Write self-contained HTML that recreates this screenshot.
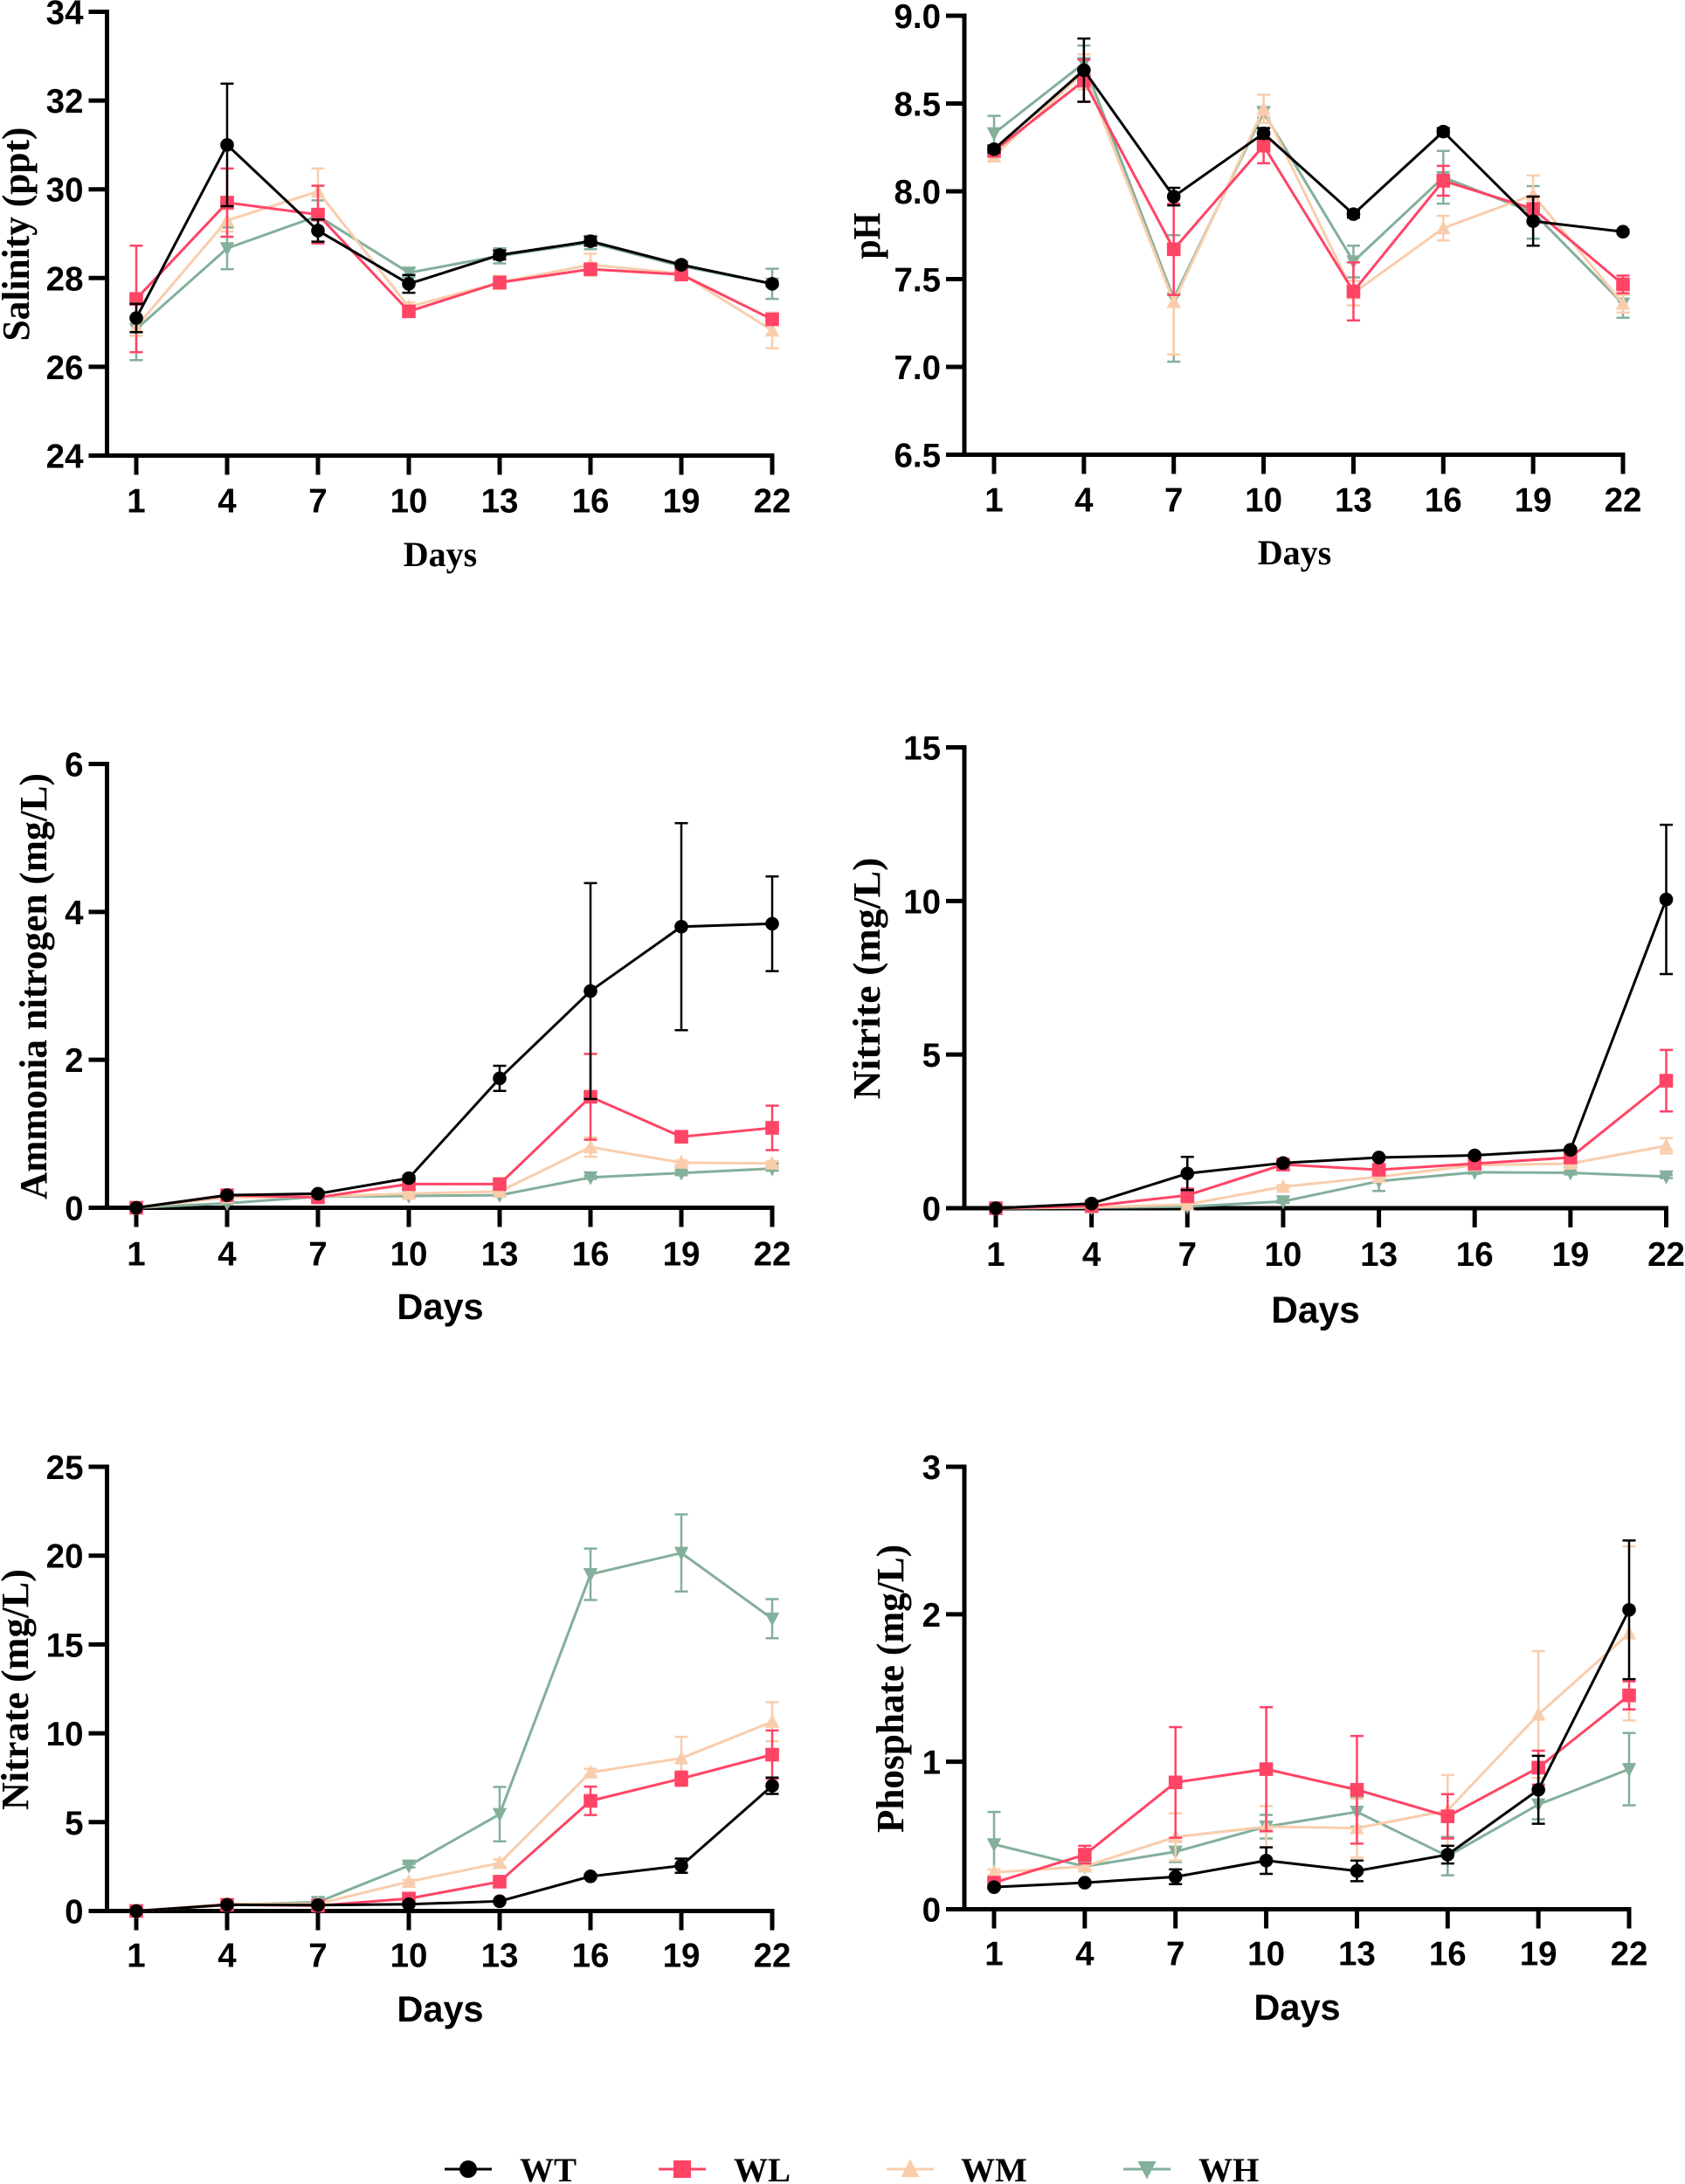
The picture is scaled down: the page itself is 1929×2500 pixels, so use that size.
<!DOCTYPE html>
<html lang="en">
<head>
<meta charset="utf-8">
<title>Water quality parameters over 22 days</title>
<style>
html,body{margin:0;padding:0;background:#fff;}
#figure{display:block;width:1929px;height:2500px;background:#fff;}
text{fill:#000;}
.tick{font:bold 38.5px "Liberation Sans",Arial,sans-serif;}
.sans-title{font:bold 41.5px "Liberation Sans",Arial,sans-serif;}
.sans-title-large{font:bold 42.5px "Liberation Sans",Arial,sans-serif;}
.serif-title{font:bold 40px "Liberation Serif","Times New Roman",serif;}
.serif-axis{font:bold 44px "Liberation Serif","Times New Roman",serif;}
.legend-text{font:bold 39px "Liberation Serif","Times New Roman",serif;}
</style>
</head>
<body>
<svg id="figure" xmlns="http://www.w3.org/2000/svg" width="1929" height="2500" viewBox="0 0 1929 2500"></svg>
<script>
const days = [1, 4, 7, 10, 13, 16, 19, 22];
const dayLabels = ["1", "4", "7", "10", "13", "16", "19", "22"];
const seriesNames = ["WH", "WM", "WL", "WT"];
const legendOrder = ["WT", "WL", "WM", "WH"];

const salinityTicks = ["24", "26", "28", "30", "32", "34"];
const salinityWT = [27.1, 31.0, 29.07, 27.87, 28.52, 28.83, 28.3, 27.87];
const salinityWTerr = [0.32, 1.38, 0.25, 0.2, 0.1, 0.1, 0.05, 0.05];
const salinityWL = [27.53, 29.7, 29.43, 27.25, 27.9, 28.2, 28.08, 27.07];
const salinityWLerr = [1.2, 0.77, 0.65, 0.1, 0.1, 0.1, 0.1, 0.1];
const salinityWM = [26.9, 29.3, 29.95, 27.35, 27.9, 28.3, 28.1, 26.82];
const salinityWMerr = [0.2, 0.25, 0.52, 0.1, 0.15, 0.25, 0.1, 0.4];
const salinityWH = [26.85, 28.67, 29.4, 28.12, 28.5, 28.8, 28.27, 27.87];
const salinityWHerr = [0.7, 0.47, 0.35, 0.1, 0.17, 0.15, 0.05, 0.34];

const phTicks = ["6.5", "7.0", "7.5", "8.0", "8.5", "9.0"];
const phWT = [8.24, 8.69, 7.97, 8.33, 7.87, 8.34, 7.83, 7.77];
const phWTerr = [0.02, 0.18, 0.05, 0.03, 0.02, 0.02, 0.14, 0.01];
const phWL = [8.23, 8.63, 7.67, 8.26, 7.43, 8.06, 7.9, 7.47];
const phWLerr = [0.02, 0.12, 0.26, 0.1, 0.165, 0.085, 0.07, 0.05];
const phWM = [8.2, 8.68, 7.37, 8.47, 7.42, 7.79, 7.98, 7.36];
const phWMerr = [0.03, 0.1, 0.3, 0.08, 0.07, 0.07, 0.11, 0.05];
const phWH = [8.33, 8.73, 7.39, 8.45, 7.6, 8.08, 7.88, 7.36];
const phWHerr = [0.1, 0.1, 0.36, 0.03, 0.09, 0.15, 0.15, 0.08];

const ammoniaTicks = ["0", "2", "4", "6"];
const ammoniaWT = [0, 0.17, 0.19, 0.4, 1.75, 2.93, 3.8, 3.84];
const ammoniaWTerr = [0, 0.02, 0.02, 0.03, 0.17, 1.46, 1.4, 0.64];
const ammoniaWL = [0, 0.17, 0.14, 0.32, 0.32, 1.5, 0.96, 1.08];
const ammoniaWLerr = [0, 0.03, 0.02, 0.03, 0.03, 0.58, 0.05, 0.3];
const ammoniaWM = [0, 0.14, 0.15, 0.19, 0.22, 0.82, 0.61, 0.6];
const ammoniaWMerr = [0, 0.01, 0.01, 0.02, 0.02, 0.13, 0.03, 0.03];
const ammoniaWH = [0, 0.06, 0.15, 0.16, 0.17, 0.41, 0.47, 0.53];
const ammoniaWHerr = [0, 0.01, 0.01, 0.02, 0.02, 0.02, 0.03, 0.03];

const nitriteTicks = ["0", "5", "10", "15"];
const nitriteWT = [0, 0.15, 1.13, 1.47, 1.65, 1.72, 1.9, 10.05];
const nitriteWTerr = [0, 0.03, 0.54, 0.05, 0.05, 0.05, 0.05, 2.43];
const nitriteWL = [0, 0.07, 0.42, 1.42, 1.25, 1.45, 1.65, 4.15];
const nitriteWLerr = [0, 0.02, 0.22, 0.05, 0.05, 0.05, 0.05, 1.0];
const nitriteWM = [0, 0.03, 0.12, 0.7, 1.02, 1.4, 1.45, 2.03];
const nitriteWMerr = [0, 0.01, 0.02, 0.05, 0.05, 0.05, 0.05, 0.25];
const nitriteWH = [0, 0.02, 0.05, 0.22, 0.88, 1.17, 1.15, 1.03];
const nitriteWHerr = [0, 0.01, 0.01, 0.05, 0.32, 0.05, 0.05, 0.05];

const nitrateTicks = ["0", "5", "10", "15", "20", "25"];
const nitrateWT = [0, 0.35, 0.33, 0.38, 0.55, 1.95, 2.55, 7.05];
const nitrateWTerr = [0, 0.05, 0.05, 0.05, 0.05, 0.1, 0.4, 0.46];
const nitrateWL = [0, 0.35, 0.3, 0.7, 1.65, 6.2, 7.45, 8.8];
const nitrateWLerr = [0, 0.05, 0.05, 0.1, 0.1, 0.8, 0.4, 1.36];
const nitrateWM = [0, 0.4, 0.4, 1.65, 2.7, 7.8, 8.6, 10.65];
const nitrateWMerr = [0, 0.05, 0.05, 0.1, 0.2, 0.2, 1.2, 1.1];
const nitrateWH = [0, 0.35, 0.5, 2.55, 5.45, 18.95, 20.15, 16.45];
const nitrateWHerr = [0, 0.05, 0.05, 0.1, 1.53, 1.45, 2.17, 1.1];

const phosphateTicks = ["0", "1", "2", "3"];
const phosphateWT = [0.15, 0.18, 0.22, 0.33, 0.26, 0.37, 0.81, 2.03];
const phosphateWTerr = [0.01, 0.01, 0.05, 0.09, 0.07, 0.06, 0.23, 0.47];
const phosphateWL = [0.18, 0.37, 0.86, 0.95, 0.81, 0.63, 0.96, 1.45];
const phosphateWLerr = [0.01, 0.06, 0.375, 0.42, 0.365, 0.15, 0.115, 0.095];
const phosphateWM = [0.25, 0.29, 0.49, 0.56, 0.55, 0.67, 1.32, 1.87];
const phosphateWMerr = [0.02, 0.02, 0.16, 0.14, 0.2, 0.24, 0.43, 0.59];
const phosphateWH = [0.44, 0.29, 0.39, 0.56, 0.66, 0.36, 0.71, 0.95];
const phosphateWHerr = [0.22, 0.02, 0.07, 0.08, 0.1, 0.13, 0.1, 0.245];

const seriesColor = {WT: "#000000", WL: "#FF4466", WM: "#F9CDAC", WH: "#83AF9B"};
const NS = "http://www.w3.org/2000/svg";
const root = document.getElementById("figure");

function make(tag, attrs, parent) {
  const el = document.createElementNS(NS, tag);
  for (const k in attrs) el.setAttribute(k, attrs[k]);
  parent.appendChild(el);
  return el;
}

function drawMarker(parent, name, x, y, s, label) {
  const fill = seriesColor[name];
  let m;
  if (name === "WT") {
    m = make("circle", {cx: x, cy: y, r: s, fill: fill}, parent);
  } else if (name === "WL") {
    m = make("rect", {x: x - s, y: y - s, width: 2 * s, height: 2 * s, fill: fill}, parent);
  } else if (name === "WM") {
    m = make("polygon", {points: [x, y - s * 1.15, x + s * 1.05, y + s * 0.9, x - s * 1.05, y + s * 0.9].join(" "), fill: fill}, parent);
  } else {
    m = make("polygon", {points: [x - s * 1.05, y - s * 0.9, x + s * 1.05, y - s * 0.9, x, y + s * 1.15].join(" "), fill: fill}, parent);
  }
  
  
  return m;
}

function drawPanel(p) {
  const g = make("g", {}, root);
  
  

  const lo = Number(p.ticks[0]);
  const hi = Number(p.ticks[p.ticks.length - 1]);
  const xScale = function (d) { return p.x1 + (d - days[0]) / (days[days.length - 1] - days[0]) * (p.x22 - p.x1); };
  const yScale = function (v) { return p.y0 + (v - lo) / (hi - lo) * (p.yTop - p.y0); };

  const yAxis = make("line", {x1: p.axisX, x2: p.axisX, y1: p.yTop - 2.5, y2: p.y0 + 2.5, stroke: "#000", "stroke-width": 5}, g);
  
  
  const xAxis = make("line", {x1: p.axisX, x2: p.x22 + 2.5, y1: p.y0, y2: p.y0, stroke: "#000", "stroke-width": 5}, g);
  
  

  p.ticks.forEach(function (label) {
    const y = yScale(Number(label));
    const t = make("line", {x1: p.axisX - 21, x2: p.axisX, y1: y, y2: y, stroke: "#000", "stroke-width": 5}, g);
    
    
    const txt = make("text", {x: p.axisX - 27, y: y + 14, "text-anchor": "end", class: "tick"}, g);
    txt.textContent = label;
    
    
  });

  days.forEach(function (d, i) {
    const x = xScale(d);
    const t = make("line", {x1: x, x2: x, y1: p.y0, y2: p.y0 + 22, stroke: "#000", "stroke-width": 5}, g);
    
    
    const txt = make("text", {x: x, y: p.y0 + p.labelDrop, "text-anchor": "middle", class: "tick"}, g);
    txt.textContent = dayLabels[i];
    
    
  });

  const xt = make("text", {x: p.xTitleX, y: p.xTitleY, "text-anchor": "middle", class: p.xTitleClass}, g);
  xt.textContent = "Days";
  
  

  const yt = make("text", {
    transform: "translate(" + p.yTitleX + " " + p.yTitleY + ") rotate(-90)",
    "text-anchor": "middle", class: "serif-axis",
    textLength: p.yTitleLen, lengthAdjust: "spacingAndGlyphs"
  }, g);
  yt.textContent = p.yTitle;
  
  

  seriesNames.forEach(function (name) {
    const values = p.values[name];
    const errors = p.errors[name];
    const color = seriesColor[name];
    const sg = make("g", {}, g);
    
    

    values.forEach(function (v, i) {
      const e = errors[i];
      if (e <= 0) return;
      const x = xScale(days[i]);
      const top = yScale(v + e);
      const bot = yScale(v - e);
      const eb = make("path", {
        d: "M" + (x - 7.5) + " " + top + "H" + (x + 7.5) + "M" + x + " " + top + "V" + bot + "M" + (x - 7.5) + " " + bot + "H" + (x + 7.5),
        fill: "none", stroke: color, "stroke-width": 2.5
      }, sg);
      
      
    });

    const pts = values.map(function (v, i) { return xScale(days[i]) + "," + yScale(v); }).join(" ");
    const line = make("polyline", {points: pts, fill: "none", stroke: color, "stroke-width": 3, "stroke-linejoin": "round"}, sg);
    
    

    values.forEach(function (v, i) {
      drawMarker(sg, name, xScale(days[i]), yScale(v), 7.8, p.id + '-point-' + name);
    });
  });
}

const leftX1 = 156, leftX22 = 884;

drawPanel({
  id: "salinity", ticks: salinityTicks,
  values: {WT: salinityWT, WL: salinityWL, WM: salinityWM, WH: salinityWH},
  errors: {WT: salinityWTerr, WL: salinityWLerr, WM: salinityWMerr, WH: salinityWHerr},
  axisX: 122.5, x1: leftX1, x22: leftX22, yTop: 13.5, y0: 521.5, labelDrop: 65,
  xTitleX: 504, xTitleY: 648, xTitleClass: "serif-title",
  yTitle: "Salinity (ppt)", yTitleX: 33, yTitleY: 268, yTitleLen: 245
});
drawPanel({
  id: "ph", ticks: phTicks,
  values: {WT: phWT, WL: phWL, WM: phWM, WH: phWH},
  errors: {WT: phWTerr, WL: phWLerr, WM: phWMerr, WH: phWHerr},
  axisX: 1104, x1: 1138, x22: 1858, yTop: 18, y0: 520.5, labelDrop: 65,
  xTitleX: 1482, xTitleY: 646, xTitleClass: "serif-title",
  yTitle: "pH", yTitleX: 1007, yTitleY: 270, yTitleLen: 53
});
drawPanel({
  id: "ammonia", ticks: ammoniaTicks,
  values: {WT: ammoniaWT, WL: ammoniaWL, WM: ammoniaWM, WH: ammoniaWH},
  errors: {WT: ammoniaWTerr, WL: ammoniaWLerr, WM: ammoniaWMerr, WH: ammoniaWHerr},
  axisX: 122.5, x1: leftX1, x22: leftX22, yTop: 874.5, y0: 1382.5, labelDrop: 66,
  xTitleX: 504, xTitleY: 1510, xTitleClass: "sans-title",
  yTitle: "Ammonia nitrogen (mg/L)", yTitleX: 53, yTitleY: 1129, yTitleLen: 488
});
drawPanel({
  id: "nitrite", ticks: nitriteTicks,
  values: {WT: nitriteWT, WL: nitriteWL, WM: nitriteWM, WH: nitriteWH},
  errors: {WT: nitriteWTerr, WL: nitriteWLerr, WM: nitriteWMerr, WH: nitriteWHerr},
  axisX: 1104, x1: 1140, x22: 1907.5, yTop: 855.5, y0: 1383, labelDrop: 66,
  xTitleX: 1506, xTitleY: 1514, xTitleClass: "sans-title-large",
  yTitle: "Nitrite (mg/L)", yTitleX: 1007, yTitleY: 1120, yTitleLen: 277
});
drawPanel({
  id: "nitrate", ticks: nitrateTicks,
  values: {WT: nitrateWT, WL: nitrateWL, WM: nitrateWM, WH: nitrateWH},
  errors: {WT: nitrateWTerr, WL: nitrateWLerr, WM: nitrateWMerr, WH: nitrateWHerr},
  axisX: 122.5, x1: leftX1, x22: leftX22, yTop: 1679, y0: 2187.5, labelDrop: 64,
  xTitleX: 504, xTitleY: 2314, xTitleClass: "sans-title",
  yTitle: "Nitrate (mg/L)", yTitleX: 32, yTitleY: 1934, yTitleLen: 276
});
drawPanel({
  id: "phosphate", ticks: phosphateTicks,
  values: {WT: phosphateWT, WL: phosphateWL, WM: phosphateWM, WH: phosphateWH},
  errors: {WT: phosphateWTerr, WL: phosphateWLerr, WM: phosphateWMerr, WH: phosphateWHerr},
  axisX: 1104, x1: 1138, x22: 1865, yTop: 1679, y0: 2185.5, labelDrop: 64,
  xTitleX: 1485, xTitleY: 2312, xTitleClass: "sans-title",
  yTitle: "Phosphate (mg/L)", yTitleX: 1034, yTitleY: 1933, yTitleLen: 330
});

const legendGroup = make("g", {}, root);


const legendLineStart = {WT: 509, WL: 754, WM: 1015, WH: 1286};
const legendTextStart = {WT: 595, WL: 840, WM: 1100, WH: 1372};
legendOrder.forEach(function (name) {
  const eg = make("g", {}, legendGroup);
  
  
  const x0 = legendLineStart[name];
  const ln = make("line", {x1: x0, x2: x0 + 54, y1: 2483, y2: 2483, stroke: seriesColor[name], "stroke-width": 3}, eg);
  
  
  drawMarker(eg, name, x0 + 27, 2483, 10, 'legend-marker-' + name);
  const t = make("text", {x: legendTextStart[name], y: 2497, class: "legend-text"}, eg);
  t.textContent = name;
  
  
});
</script>
</body>
</html>
